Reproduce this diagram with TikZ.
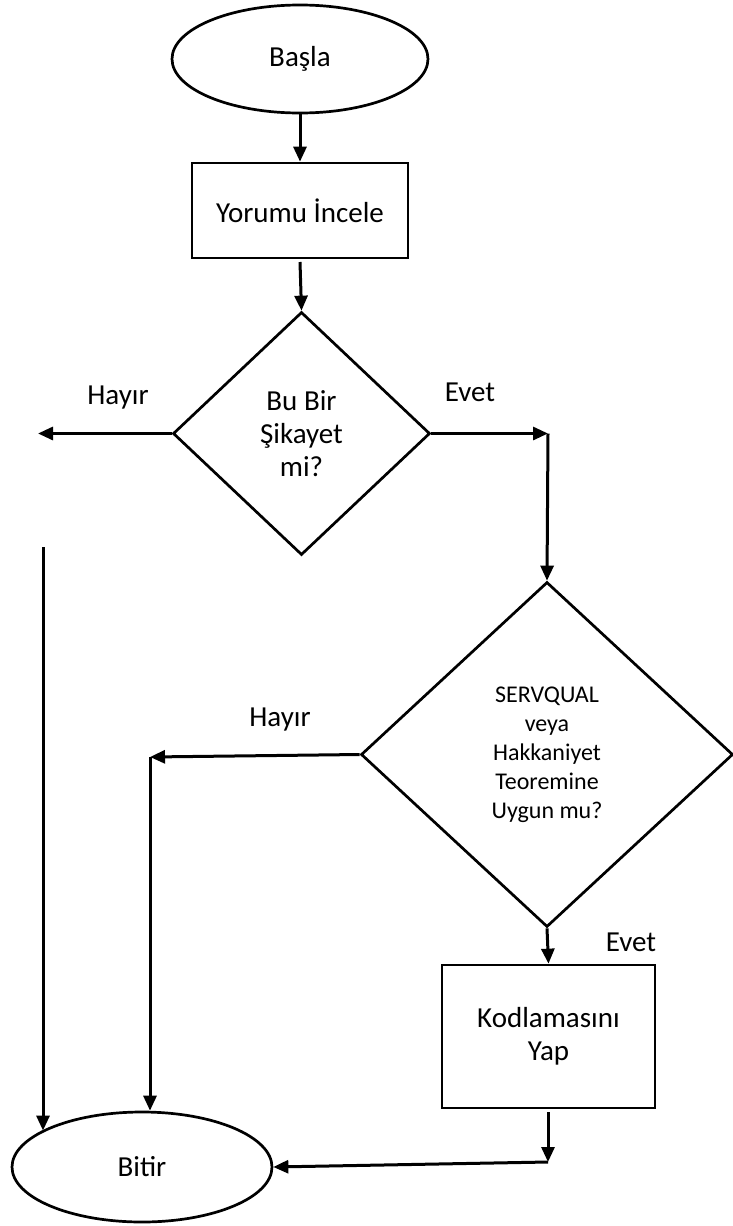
\documentclass[tikz,border=0pt]{standalone}
\usepackage{fontspec}
\setmainfont{Carlito}
\usetikzlibrary{shapes.geometric,arrows.meta}
\begin{document}
\begin{tikzpicture}[x=1pt,y=-1pt,
  every node/.style={font=\fontsize{29}{33}\selectfont, align=center},
  shp/.style={draw, line width=2.7pt, inner sep=0pt},
  oval/.style={shp, ellipse},
  box/.style={shp, rectangle},
  dec/.style={shp, diamond},
  conn/.style={line width=3pt, -{Triangle[length=15pt,width=13pt]}},
  lbl/.style={}
]
\useasboundingbox (0,0) rectangle (733,1226);
\node[oval, minimum width=256pt, minimum height=108pt] (start) at (300,59) {Başla};
\node[box, minimum width=216pt, minimum height=95pt] (r1) at (300,210.5) {Yorumu İncele};
\node[dec, minimum width=257pt, minimum height=243pt] (d1) at (301.5,433.5) {Bu Bir\\Şikayet\\mi?};
\node[dec, minimum width=372pt, minimum height=345pt, font=\fontsize{24}{29}\selectfont] (d2) at (547,754.5) {SERVQUAL\\veya\\Hakkaniyet\\Teoremine\\Uygun mu?};
\node[box, minimum width=213pt, minimum height=143pt] (r2) at (548.5,1036.5) {Kodlamasını\\Yap};
\node[oval, minimum width=260pt, minimum height=110pt] (bitir) at (142,1167) {Bitir};

\coordinate (hl1) at (38,433.5);
\coordinate (ev1) at (548,433.5);
\coordinate (l1top) at (43,547);
\coordinate (hl2) at (150,757);
\coordinate (k2) at (548,1162);
\coordinate (k1) at (548,1112);
\coordinate (r1s) at (300,262);

\node[lbl] (hay1) at (118,398) {Hayır};
\node[lbl] (ev1l) at (470,392) {Evet};
\node[lbl] (hay2) at (280,720) {Hayır};
\node[lbl] (ev2l) at (631,942) {Evet};

\draw[conn] (start.south) -- (r1.north);
\draw[conn] (r1s) -- (d1.north);
\draw[conn] (d1.west) -- (hl1);
\draw[conn] (d1.east) -- (ev1);
\draw[conn] (ev1) -- (d2.north);
\draw[conn] (d2.west) -- (hl2);
\draw[conn] (hl2) -- (hl2 |- bitir.north);
\draw[conn] (l1top) -- (l1top |- bitir.160);
\draw[conn] (d2.south) -- (r2.north);
\draw[conn] (k1) -- (k2);
\draw[conn] (k2) -- (bitir.east);
\end{tikzpicture}
\end{document}
